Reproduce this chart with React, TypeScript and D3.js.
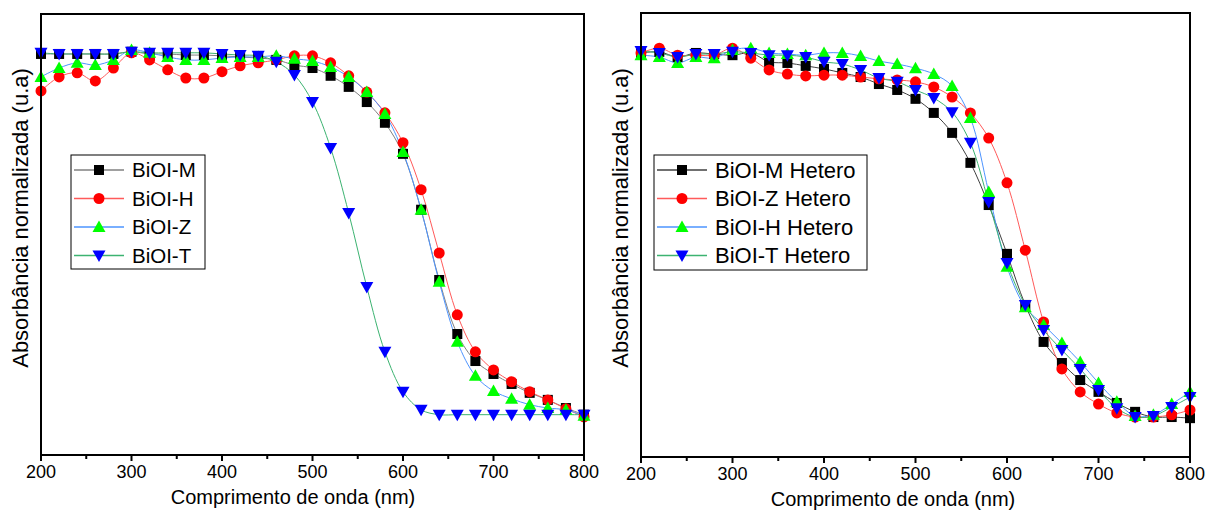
import React from 'react';
import * as d3 from 'd3';

const W = 1209;
const H = 512;

// wavelength grid (nm), one point every 20 nm
const wavelengths = d3.range(200, 801, 20);
const xTicks = [200, 300, 400, 500, 600, 700, 800];
const xMinorTicks = [250, 350, 450, 550, 650, 750];

// left panel
const leftNames = ['BiOI-M', 'BiOI-H', 'BiOI-Z', 'BiOI-T'];
const biolM = [0.989,0.989,0.989,0.989,0.989,0.995,0.989,0.989,0.986,0.986,0.984,0.981,0.978,0.973,0.959,0.951,0.930,0.900,0.859,0.803,0.719,0.568,0.378,0.232,0.159,0.124,0.097,0.073,0.054,0.032,0.014];
const biolH = [0.889,0.927,0.938,0.916,0.951,0.992,0.973,0.946,0.924,0.924,0.941,0.957,0.965,0.973,0.984,0.984,0.965,0.930,0.886,0.830,0.749,0.622,0.451,0.284,0.184,0.135,0.103,0.076,0.054,0.030,0.008];
const biolZ = [0.927,0.951,0.965,0.959,0.973,1.0,0.992,0.981,0.973,0.973,0.978,0.981,0.981,0.984,0.976,0.970,0.954,0.927,0.886,0.827,0.724,0.568,0.373,0.211,0.119,0.078,0.057,0.041,0.032,0.027,0.011];
const biolT = [0.992,0.989,0.989,0.989,0.989,0.995,0.992,0.992,0.992,0.992,0.989,0.986,0.984,0.968,0.932,0.859,0.735,0.559,0.359,0.184,0.076,0.027,0.014,0.014,0.014,0.014,0.014,0.014,0.014,0.014,0.014];

// right panel
const rightNames = ['BiOI-M Hetero', 'BiOI-Z Hetero', 'BiOI-H Hetero', 'BiOI-T Hetero'];
const heteroM = [0.992,0.995,0.981,0.992,0.989,0.986,0.992,0.968,0.965,0.957,0.949,0.938,0.927,0.908,0.892,0.868,0.830,0.776,0.695,0.581,0.449,0.311,0.211,0.154,0.108,0.076,0.046,0.022,0.008,0.008,0.005];
const heteroZ = [0.992,1.005,0.986,0.986,0.986,1.005,0.978,0.946,0.935,0.930,0.932,0.932,0.927,0.922,0.919,0.914,0.900,0.873,0.830,0.762,0.641,0.459,0.265,0.138,0.076,0.043,0.019,0.008,0.008,0.014,0.027];
const heteroH = [0.986,0.981,0.965,0.981,0.978,1.0,1.005,0.992,0.989,0.986,0.992,0.992,0.984,0.970,0.962,0.951,0.935,0.903,0.816,0.616,0.414,0.305,0.257,0.208,0.157,0.100,0.049,0.011,0.014,0.043,0.076];
const heteroT = [0.997,0.992,0.981,0.989,0.989,0.995,0.992,0.986,0.986,0.981,0.968,0.962,0.946,0.924,0.914,0.892,0.870,0.832,0.749,0.589,0.424,0.311,0.243,0.189,0.138,0.081,0.032,0.008,0.011,0.035,0.062];

// marker shape, marker fill, line colour per series slot
const styles = [
  { shape: 'square', fill: '#000000', line: '#808080' },
  { shape: 'circle', fill: '#ff0000', line: '#ff5a5a' },
  { shape: 'up', fill: '#00ff00', line: '#4d94ff' },
  { shape: 'down', fill: '#0000ff', line: '#3cb371' },
];
const rightStyles = [
  { shape: 'square', fill: '#000000', line: '#404040' },
  { shape: 'circle', fill: '#ff0000', line: '#ff5a5a' },
  { shape: 'up', fill: '#00ff00', line: '#4d94ff' },
  { shape: 'down', fill: '#0000ff', line: '#3cb371' },
];

const font = 'Arial, "Liberation Sans", sans-serif';

function Marker({ shape, x, y, fill }) {
  if (shape === 'square') {
    return <rect x={x - 5} y={y - 5} width={10} height={10} fill={fill} />;
  }
  if (shape === 'circle') {
    return <circle cx={x} cy={y} r={5.5} fill={fill} />;
  }
  if (shape === 'up') {
    return <path d={`M${x},${y - 6.5}L${x + 6.5},${y + 5}L${x - 6.5},${y + 5}Z`} fill={fill} />;
  }
  return <path d={`M${x},${y + 6.5}L${x + 6.5},${y - 5}L${x - 6.5},${y - 5}Z`} fill={fill} />;
}

function Panel({ left, right, top, bottom, yDomain, series, names, sty, legend, yTitleX }) {
  const x = d3.scaleLinear().domain([200, 800]).range([left, right]);
  const y = d3.scaleLinear().domain(yDomain).range([bottom, top]);
  const line = d3
    .line<number>()
    .x((d, i) => x(wavelengths[i]))
    .y((d) => y(d))
    .curve(d3.curveCatmullRom);

  return (
    <g>
      {series.map((s, k) => (
        <path key={'l' + k} d={line(s) || ''} fill="none" stroke={sty[k].line} strokeWidth={1} />
      ))}
      {series.map((s, k) => (
        <g key={'m' + k}>
          {s.map((v, i) => (
            <Marker key={i} shape={sty[k].shape} x={x(wavelengths[i])} y={y(v)} fill={sty[k].fill} />
          ))}
        </g>
      ))}
      <rect x={left} y={top} width={right - left} height={bottom - top} fill="none" stroke="#000" strokeWidth={2} />
      {xTicks.map((t) => (
        <g key={t}>
          <line x1={x(t)} x2={x(t)} y1={bottom} y2={bottom + 6} stroke="#000" strokeWidth={2} />
          <text x={x(t)} y={bottom + 23} textAnchor="middle" fontSize={18} fontFamily={font}>
            {t}
          </text>
        </g>
      ))}
      {xMinorTicks.map((t) => (
        <line key={t} x1={x(t)} x2={x(t)} y1={bottom} y2={bottom + 4} stroke="#000" strokeWidth={2} />
      ))}
      <text x={left + 252} y={bottom + 49} textAnchor="middle" fontSize={20} fontFamily={font}>
        Comprimento de onda (nm)
      </text>
      <text
        transform={`translate(${yTitleX},218) rotate(-90)`}
        textAnchor="middle"
        fontSize={22}
        fontFamily={font}
      >
        Absorbância normalizada (u.a)
      </text>
      <rect x={legend.x} y={legend.y} width={legend.w} height={legend.h} fill="#fff" stroke="#000" strokeWidth={1} />
      {names.map((n, k) => {
        const ly = legend.y + 15 + k * 28.5;
        return (
          <g key={n}>
            <line x1={legend.x + 3} x2={legend.x + 53} y1={ly} y2={ly} stroke={sty[k].line} strokeWidth={1.5} />
            <Marker shape={sty[k].shape} x={legend.x + 28} y={ly} fill={sty[k].fill} />
            <text x={legend.x + 61} y={ly + legend.fs * 0.36} fontSize={legend.fs} fontFamily={font}>
              {n}
            </text>
          </g>
        );
      })}
    </g>
  );
}

export default function App() {
  return (
    <svg width={W} height={H} style={{ position: 'absolute', left: 0, top: 0, background: '#fff' }}>
      <Panel
        left={41}
        right={584}
        top={14}
        bottom={455}
        yDomain={[-0.095, 1.097]}
        series={[biolM, biolH, biolZ, biolT]}
        names={leftNames}
        sty={styles}
        legend={{ x: 71, y: 155, w: 134, h: 114, fs: 20.5 }}
        yTitleX={28}
      />
      <Panel
        left={641}
        right={1190}
        top={13}
        bottom={457}
        yDomain={[-0.1, 1.1]}
        series={[heteroM, heteroZ, heteroH, heteroT]}
        names={rightNames}
        sty={rightStyles}
        legend={{ x: 654, y: 155, w: 213, h: 115, fs: 22 }}
        yTitleX={628}
      />
    </svg>
  );
}
